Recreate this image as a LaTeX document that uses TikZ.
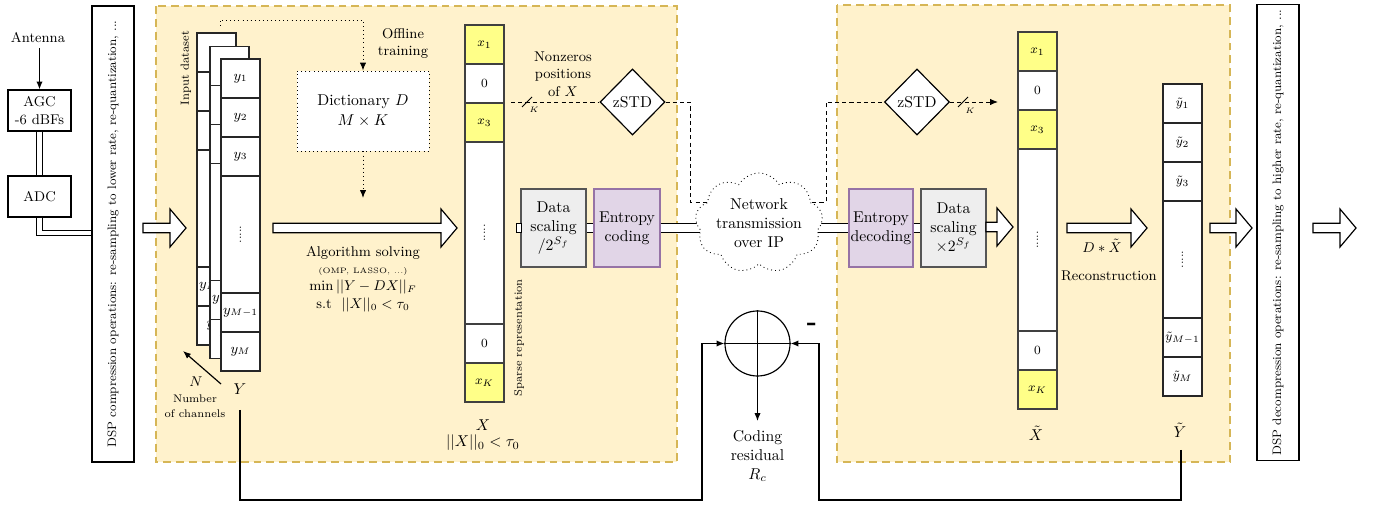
\documentclass[tikz,border=0pt]{standalone}
\usepackage{graphicx}
\usetikzlibrary{shapes.geometric,shapes.symbols,arrows.meta}
\def\pxu{0.637pt}
\definecolor{regfill}{HTML}{FFF2CC}
\definecolor{regdraw}{HTML}{D6B656}
\definecolor{xyel}{HTML}{FFFF88}
\definecolor{scfill}{HTML}{EEEEEE}
\definecolor{scdraw}{HTML}{555555}
\definecolor{enfill}{HTML}{E1D5E7}
\definecolor{endraw}{HTML}{9673A6}
\newcommand{\fatarr}[3]{%
  \draw[fat] (#1,#3-4.8) -- (#2-16,#3-4.8) -- (#2-16,#3-19) -- (#2,#3) -- (#2-16,#3+19) -- (#2-16,#3+4.8) -- (#1,#3+4.8) -- cycle;}
\newcommand{\ycolumn}[3]{%
  \node[ycell] (#1a) at (#2,#3+19.5) {$y_1$};
  \node[ycell] (#1b) at (#2,#3+58.5) {$y_2$};
  \node[ycell] (#1c) at (#2,#3+97.5) {$y_3$};
  \node[ycell, minimum height=117*\pxu] (#1d) at (#2,#3+175.5) {\rotatebox{90}{\scriptsize .....}};
  \node[ycell] (#1e) at (#2,#3+253.5) {$y_{M-1}$};
  \node[ycell] (#1f) at (#2,#3+292.5) {$y_M$};}
\begin{document}
\begin{tikzpicture}[x=\pxu,y=-\pxu,
  line width=0.75pt,
  region/.style={draw=regdraw, fill=regfill, line width=1.4pt, dash pattern=on 5pt off 3.2pt},
  ycell/.style={draw=black!85, fill=white, minimum width=39*\pxu, minimum height=39*\pxu, inner sep=0pt, font=\small},
  xcell/.style={draw=black!75, fill=white, minimum width=39*\pxu, minimum height=39*\pxu, inner sep=0pt, font=\footnotesize},
  tcell/.style={xcell},
  plainbox/.style={draw, fill=white, inner sep=0pt, align=center},
  scbox/.style={draw=scdraw, fill=scfill, inner sep=0pt, align=center, minimum width=65*\pxu, minimum height=78*\pxu},
  enbox/.style={draw=endraw, fill=enfill, inner sep=0pt, align=center, minimum width=65*\pxu, minimum height=78*\pxu},
  dspbox/.style={draw, fill=white, rotate=90, inner sep=0pt, minimum width=456*\pxu, minimum height=42*\pxu, font=\fontsize{7.8}{9}\selectfont},
  zstd/.style={draw, fill=white, diamond, aspect=1, inner sep=0pt, minimum width=65*\pxu, minimum height=66*\pxu},
  fat/.style={draw, fill=white, line width=0.75pt},
  arr/.style={-{Latex[length=5pt,width=4pt]}},
  dbl/.style={double=white, double distance=5pt, line width=0.6pt},
  dbls/.style={double=white, double distance=3pt, line width=0.6pt},
  dsh/.style={line width=0.55pt, dash pattern=on 2.6pt off 2pt},
  dtt/.style={line width=0.6pt, dotted},
  lab/.style={inner sep=0pt, align=center}
]
\useasboundingbox (0,0) rectangle (1374,506);
% regions
\path[region] (156,6) rectangle (677,462);
\path[region] (837,5) rectangle (1230,462);

% left front-end
\node[lab, font=\small] (ant) at (38,38) {Antenna};
\node[plainbox, minimum width=63*\pxu, minimum height=41*\pxu, font=\small] (agc) at (39.5,110.5) {AGC\\-6 dBFs};
\node[plainbox, minimum width=63*\pxu, minimum height=41*\pxu, font=\small] (adc) at (39.5,196.5) {ADC};
\node[dspbox] (dsp1) at (113,234) {DSP compression operations: re-sampling to lower rate, re-quantization, ...};
\coordinate (antfoot) at (39.5,48);
\draw[arr] (antfoot) -- (agc.north);
\draw[dbls] (agc.south) -- (adc.north);
\coordinate (adcturn) at (39.5,233);
\draw[dbls] (adc.south) -- (adcturn) -- (adcturn -| dsp1.north);
\fatarr{143}{186}{228}

% input dataset stack
\node[lab, rotate=90, font=\fontsize{7.5}{9}\selectfont] (indata) at (186,68) {Input dataset};
\ycolumn{bk}{216.5}{33}
\ycolumn{md}{229.5}{46.5}
\ycolumn{fr}{240.5}{59}
\coordinate (nstart) at (221,384);
\coordinate (nend) at (183,351);
\draw[arr] (nstart) -- (nend);
\node[lab, font=\small] (nlab) at (196,382) {$N$};
\node[lab, font=\fontsize{7}{9.5}\selectfont] (nchan) at (195,406.5) {Number\\of channels};
\node[lab] (ylab) at (240,389) {$Y$};

% dictionary
\node[lab, font=\small] (offl) at (403,43.5) {Offline\\training};
\node[plainbox, dtt, minimum width=132*\pxu, minimum height=80*\pxu] (dict) at (363,111) {Dictionary $D$\\[1pt]$M\times K$};
\coordinate (dots0) at (220,26);
\coordinate (dots1) at (220,20);
\coordinate (dots2) at (363,20);
\draw[dtt, arr] (dots0) -- (dots1) -- (dots2) -- (dict.north);
\coordinate (dictarr) at (363,198);
\draw[dtt, arr] (dict.south) -- (dictarr);

\fatarr{273}{457}{228}
\node[lab, font=\small] (alg1) at (363,253) {Algorithm solving};
\node[lab, font=\tiny] (alg2) at (363,271.5) {(OMP, LASSO, ...)};
\node[lab, font=\small] (alg3) at (363,287) {$\min ||Y-DX||_F$};
\node[lab, font=\small] (alg4) at (363,305) {s.t\ \ $||X||_0 < \tau_0$};

% sparse X column
\node[xcell, fill=xyel] (x1) at (484.5,44.5) {$x_1$};
\node[xcell] (x2) at (484.5,83.5) {0};
\node[xcell, fill=xyel] (x3) at (484.5,122.5) {$x_3$};
\node[xcell, minimum height=182*\pxu] (x4) at (484.5,233) {\rotatebox{90}{\scriptsize .....}};
\node[xcell] (x5) at (484.5,343.5) {0};
\node[xcell, fill=xyel] (x6) at (484.5,382.5) {$x_K$};
\node[lab, rotate=90, font=\scriptsize] (sparse) at (519,338) {Sparse representation};
\node[lab] (xlab) at (483,425) {$X$};
\node[lab] (xnorm) at (483,443) {$||X||_0 < \tau_0$};

% nonzero positions path
\node[lab, font=\small] (nonz) at (563,74) {Nonzeros\\positions\\of $X$};
\node[zstd] (z1) at (632.5,102) {zSTD};
\coordinate (dstart) at (511,102);
\draw[dsh] (dstart) -- (z1.west);
\draw[line width=0.6pt] (522,107) -- (532,97);
\node[lab, font=\tiny] (k1) at (534,110) {$K$};

% coding chain
\node[scbox] (sc1) at (553.5,228) {Data\\scaling\\$/2^{S_f}$};
\node[enbox, minimum width=66*\pxu] (en1) at (627,228) {Entropy\\coding};
\draw[fill=white, line width=0.6pt] (516,223.5) rectangle (521,232.5);
\draw[dbl] (sc1.east) -- (en1.west);

\node[enbox, minimum width=64*\pxu] (de1) at (881,228) {Entropy\\decoding};
\node[scbox] (sc2) at (953.5,228) {Data\\scaling\\$\times 2^{S_f}$};
\draw[dbl] (de1.east) -- (sc2.west);
\fatarr{986}{1013}{227}

% network lines
\coordinate (c1) at (690,102);
\coordinate (c2) at (690,202);
\coordinate (c3) at (715,202);
\draw[dsh] (z1.east) -- (c1) -- (c2) -- (c3);
\coordinate (c4) at (805,202);
\coordinate (c5) at (826,202);
\coordinate (c6) at (826,102);
\node[zstd] (z2) at (917,102) {zSTD};
\draw[dsh] (c4) -- (c5) -- (c6) -- (z2.west);
\coordinate (zend) at (998,102);
\draw[dsh, arr] (z2.east) -- (zend);
\draw[line width=0.6pt] (958,107) -- (968,97);
\node[lab, font=\tiny] (k2) at (970,111) {$K$};
\draw[dbl] (en1.east) -- (759,228);
\draw[dbl] (759,228) -- (de1.west);
\node[cloud, cloud puffs=9, cloud puff arc=120, cloud ignores aspect, draw, line width=0.55pt, dotted, fill=white, minimum width=122*\pxu, minimum height=100*\pxu, inner sep=0pt, align=center] (cloud) at (759,223) {Network\\transmission\\over IP};

% reconstructed X column
\node[tcell, fill=xyel] (t1) at (1037.5,51.5) {$x_1$};
\node[tcell] (t2) at (1037.5,90.5) {0};
\node[tcell, fill=xyel] (t3) at (1037.5,129.5) {$x_3$};
\node[tcell, minimum height=182*\pxu] (t4) at (1037.5,240) {\rotatebox{90}{\scriptsize .....}};
\node[tcell] (t5) at (1037.5,350.5) {0};
\node[tcell, fill=xyel] (t6) at (1037.5,389.5) {$x_K$};
\node[lab] (tlab) at (1036,433) {$\tilde{X}$};

\fatarr{1067}{1147}{228}
\node[lab, font=\small] (dx) at (1102,246) {$D*\tilde{X}$};
\node[lab, font=\small] (recon) at (1109,276) {Reconstruction};

% reconstructed Y column
\node[ycell, font=\footnotesize] (u1) at (1182.5,103.5) {$\tilde{y}_1$};
\node[ycell, font=\footnotesize] (u2) at (1182.5,142.5) {$\tilde{y}_2$};
\node[ycell, font=\footnotesize] (u3) at (1182.5,181.5) {$\tilde{y}_3$};
\node[ycell, minimum height=117*\pxu] (u4) at (1182.5,259.5) {\rotatebox{90}{\scriptsize .....}};
\node[ycell, font=\footnotesize] (u5) at (1182.5,337.5) {$\tilde{y}_{M-1}$};
\node[ycell, font=\footnotesize] (u6) at (1182.5,376.5) {$\tilde{y}_M$};
\node[lab] (ytlab) at (1180,430) {$\tilde{Y}$};

\fatarr{1210}{1252}{228}
\node[dspbox] (dsp2) at (1278,232.5) {DSP decompression operations: re-sampling to higher rate, re-quantization, ...};
\fatarr{1313}{1356}{228}

% residual loop
\node[draw, circle, minimum size=65*\pxu, inner sep=0pt] (circ) at (757.5,343.5) {};
\draw (circ.north) -- (circ.south);
\draw (circ.west) -- (circ.east);
\node[lab, font=\LARGE\bfseries] (minus) at (812,327) {-};
\coordinate (yfoot) at (240,410);
\coordinate (l1) at (240,500);
\coordinate (l2) at (702,500);
\coordinate (l3) at (702,343.5);
\draw[arr] (yfoot) -- (l1) -- (l2) -- (l3) -- (circ.west);
\coordinate (ytfoot) at (1181,450);
\coordinate (r1) at (1181,500);
\coordinate (r2) at (819,500);
\coordinate (r3) at (819,343.5);
\draw[arr] (ytfoot) -- (r1) -- (r2) -- (r3) -- (circ.east);
\coordinate (resend) at (757.5,421);
\draw[arr] (circ.south) -- (resend);
\node[lab] (resid) at (757.5,456) {Coding\\residual\\$R_c$};
\end{tikzpicture}
\end{document}
